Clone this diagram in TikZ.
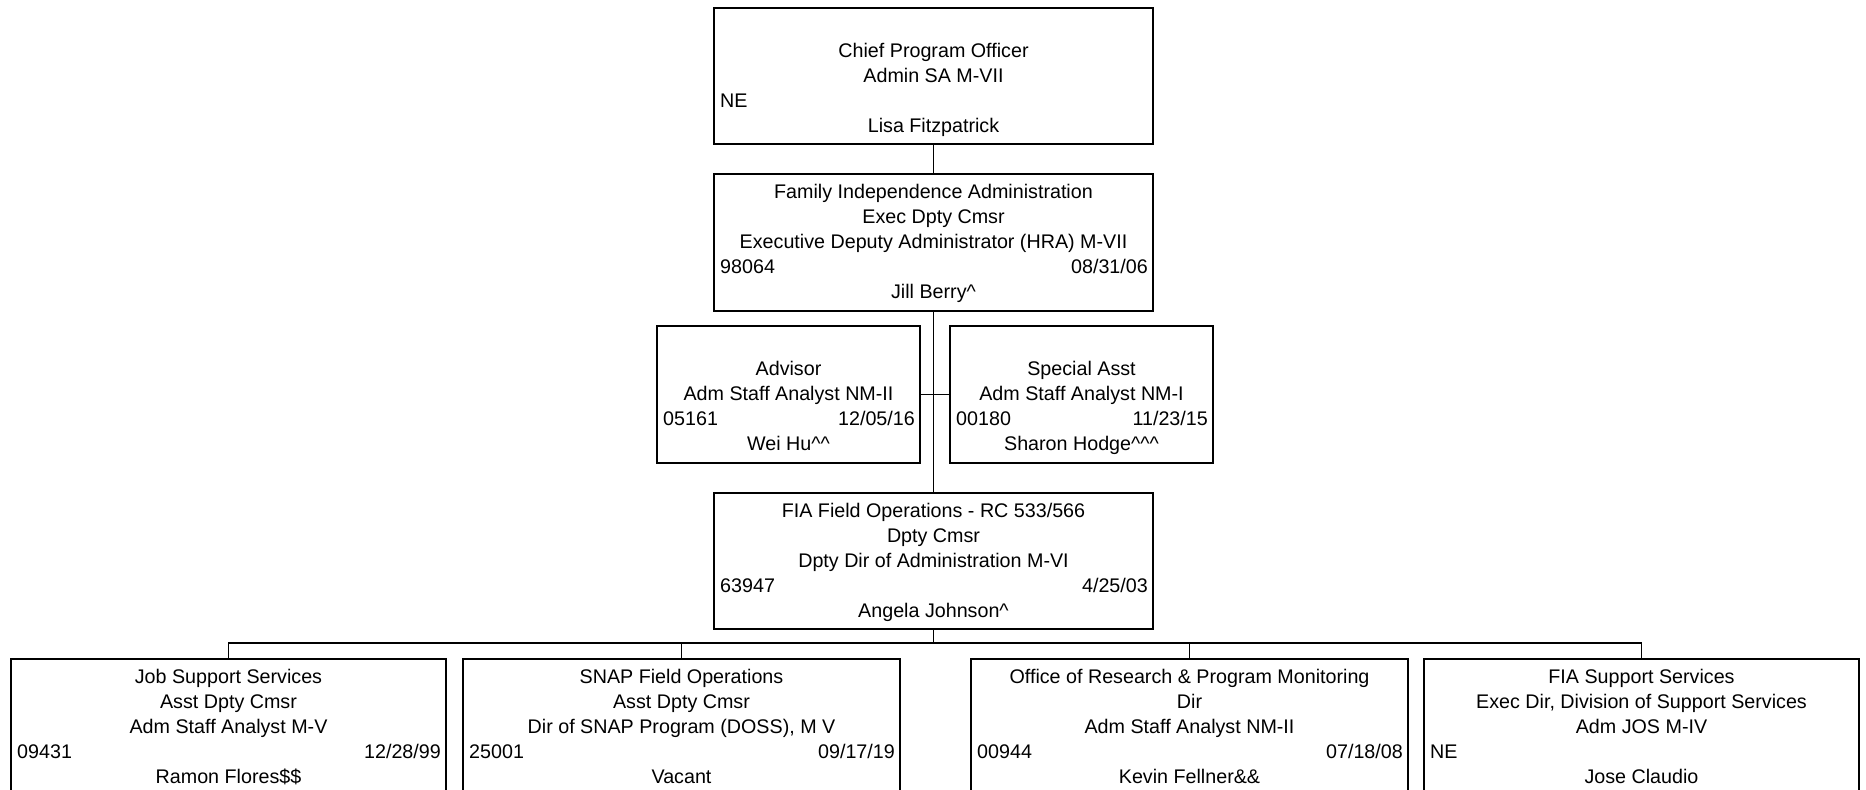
\documentclass[tikz,border=0pt]{standalone}
\usepackage{fontspec}
\setmainfont{Liberation Sans}
\tikzset{
  box/.style={draw, line width=1.2pt, inner sep=0pt, rectangle},
  conn/.style={line width=0.8pt},
  txt/.style={inner sep=0pt, font=\fontsize{9.85}{12}\selectfont}
}
\newcommand\txtc[3]{\node[txt,anchor=base] (#1-#2c) at ([yshift={-13pt-12.5pt*#2}]#1.north) {#3};}
\newcommand\txtl[3]{\node[txt,anchor=base west] (#1-#2l) at ([xshift=3.5pt,yshift={-13pt-12.5pt*#2}]#1.north west) {#3};}
\newcommand\txtr[3]{\node[txt,anchor=base east] (#1-#2r) at ([xshift=-3pt,yshift={-13pt-12.5pt*#2}]#1.north east) {#3};}
\begin{document}
\begin{tikzpicture}[x=0.5pt,y=-0.5pt]
\clip (0,0) rectangle (1866,789);
\fill[white] (0,0) rectangle (1866,789);

% boxes
\node[box, minimum width=219.5pt, minimum height=68pt] (cpo) at (933.5,76) {};
\node[box, minimum width=219.5pt, minimum height=68.5pt] (fia) at (933.5,242.5) {};
\node[box, minimum width=131.5pt, minimum height=68.5pt] (adv) at (788.5,394.5) {};
\node[box, minimum width=131.5pt, minimum height=68.5pt] (spa) at (1081.5,394.5) {};
\node[box, minimum width=219.5pt, minimum height=68pt] (fld) at (933.5,561) {};
\node[box, minimum width=217.5pt, minimum height=68.5pt] (b1) at (228.5,727.5) {};
\node[box, minimum width=218.5pt, minimum height=68.5pt] (b2) at (681.5,727.5) {};
\node[box, minimum width=218.5pt, minimum height=68.5pt] (b3) at (1189.5,727.5) {};
\node[box, minimum width=217.5pt, minimum height=68.5pt] (b4) at (1641.5,727.5) {};

% connectors
\coordinate (bus) at (933.5,643);
\draw[conn] (cpo.south) -- (fia.north);
\draw[conn] (fia.south) -- (fld.north);
\draw[conn] (adv.east) -- (spa.west);
\draw[conn] (fld.south) -- (fld.south |- bus);
\draw[conn] (b1.north) |- (b4.north |- bus) -- (b4.north);
\draw[conn] (b2.north) -- (b2.north |- bus);
\draw[conn] (b3.north) -- (b3.north |- bus);

% texts
\txtc{cpo}{1}{Chief Program Officer}
\txtc{cpo}{2}{Admin SA M-VII}
\txtl{cpo}{3}{NE}
\txtc{cpo}{4}{Lisa Fitzpatrick}

\txtc{fia}{0}{Family Independence Administration}
\txtc{fia}{1}{Exec Dpty Cmsr}
\txtc{fia}{2}{Executive Deputy Administrator (HRA) M-VII}
\txtl{fia}{3}{98064}
\txtr{fia}{3}{08/31/06}
\txtc{fia}{4}{Jill Berry\textasciicircum}

\txtc{adv}{1}{Advisor}
\txtc{adv}{2}{Adm Staff Analyst NM-II}
\txtl{adv}{3}{05161}
\txtr{adv}{3}{12/05/16}
\txtc{adv}{4}{Wei Hu\textasciicircum\textasciicircum}

\txtc{spa}{1}{Special Asst}
\txtc{spa}{2}{Adm Staff Analyst NM-I}
\txtl{spa}{3}{00180}
\txtr{spa}{3}{11/23/15}
\txtc{spa}{4}{Sharon Hodge\textasciicircum\textasciicircum\textasciicircum}

\txtc{fld}{0}{FIA Field Operations - RC 533/566}
\txtc{fld}{1}{Dpty Cmsr}
\txtc{fld}{2}{Dpty Dir of Administration M-VI}
\txtl{fld}{3}{63947}
\txtr{fld}{3}{4/25/03}
\txtc{fld}{4}{Angela Johnson\textasciicircum}

\txtc{b1}{0}{Job Support Services}
\txtc{b1}{1}{Asst Dpty Cmsr}
\txtc{b1}{2}{Adm Staff Analyst M-V}
\txtl{b1}{3}{09431}
\txtr{b1}{3}{12/28/99}
\txtc{b1}{4}{Ramon Flores\$\$}

\txtc{b2}{0}{SNAP Field Operations}
\txtc{b2}{1}{Asst Dpty Cmsr}
\txtc{b2}{2}{Dir of SNAP Program (DOSS), M V}
\txtl{b2}{3}{25001}
\txtr{b2}{3}{09/17/19}
\txtc{b2}{4}{Vacant}

\txtc{b3}{0}{Office of Research \& Program Monitoring}
\txtc{b3}{1}{Dir}
\txtc{b3}{2}{Adm Staff Analyst NM-II}
\txtl{b3}{3}{00944}
\txtr{b3}{3}{07/18/08}
\txtc{b3}{4}{Kevin Fellner\&\&}

\txtc{b4}{0}{FIA Support Services}
\txtc{b4}{1}{Exec Dir, Division of Support Services}
\txtc{b4}{2}{Adm JOS M-IV}
\txtl{b4}{3}{NE}
\txtc{b4}{4}{Jose Claudio}
\end{tikzpicture}
\end{document}
